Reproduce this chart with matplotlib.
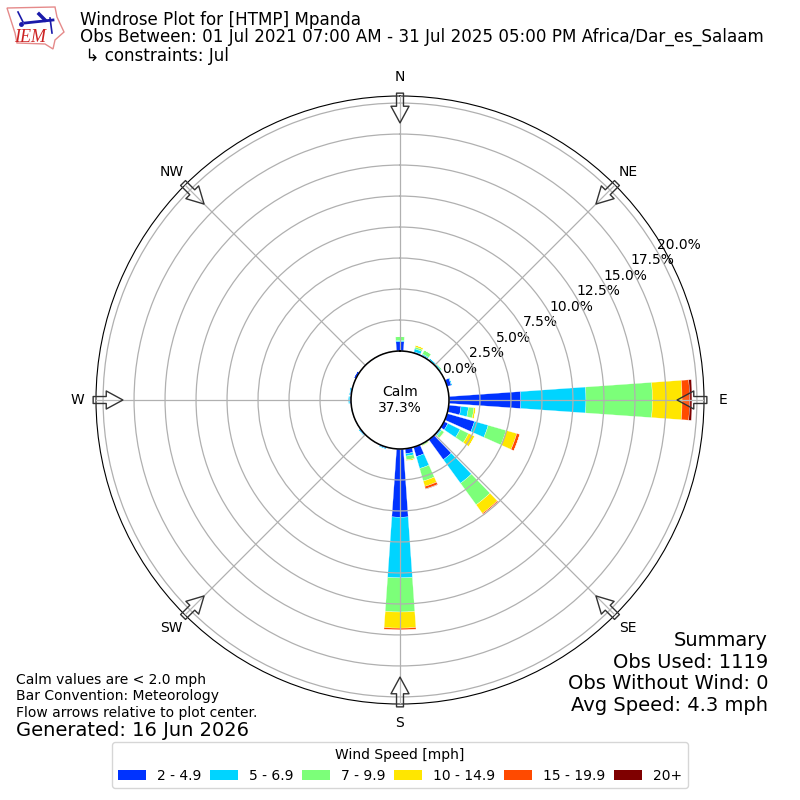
import numpy as np
import matplotlib
matplotlib.use('Agg')
import matplotlib.pyplot as plt
from matplotlib.patches import Polygon, Patch

# direction (deg) -> percent of obs in each speed bin
speed_labels = ['2 - 4.9', '5 - 6.9', '7 - 9.9', '10 - 14.9', '15 - 19.9', '20+']
speed_colors = ['#0033ff', '#00d4ff', '#7cff79', '#ffe600', '#ff4a00', '#7f0000']
directions = [10, 20, 30, 40, 50, 60, 70, 80, 90, 100, 110, 120,
              130, 140, 150, 160, 170, 180, 190, 200, 210, 220, 230, 240,
              250, 260, 270, 280, 290, 300, 310, 320, 330, 340, 350, 360]
bin_2_5 = [0.03, 0.10, 0.08, 0.05, 0.05, 0.03, 0.35, 0.03, 5.8, 1.0, 2.3, 0.35,
           0.10, 2.0, 0.02, 0.8, 0.4, 5.5, 0.03, 0.10, 0.03, 0.05, 0.10, 0.08,
           0.03, 0.05, 0.10, 0.10, 0.03, 0.20, 0.03, 0.05, 0.03, 0.03, 0.05, 0.75]
bin_5_7 = [0.01, 0.25, 0.10, 0.15, 0.10, 0.00, 0.10, 0.00, 5.25, 0.6, 1.15, 1.1,
           0.10, 2.35, 0.03, 1.0, 0.2, 4.9, 0.00, 0.10, 0.00, 0.00, 0.10, 0.00,
           0.00, 0.05, 0.15, 0.10, 0.00, 0.00, 0.00, 0.00, 0.00, 0.00, 0.00, 0.10]
bin_7_10 = [0.00, 0.15, 0.35, 0.00, 0.10, 0.00, 0.00, 0.00, 5.35, 0.45, 1.5, 0.75,
            0.25, 2.15, 0.10, 1.05, 0.3, 2.75, 0.00, 0.00, 0.00, 0.00, 0.00, 0.00,
            0.00, 0.00, 0.00, 0.00, 0.00, 0.00, 0.00, 0.00, 0.00, 0.00, 0.00, 0.30]
bin_10_15 = [0.01, 0.15, 0.00, 0.00, 0.00, 0.00, 0.00, 0.00, 2.4, 0.15, 0.9, 0.55,
             0.05, 0.85, 0.05, 0.45, 0.1, 1.3, 0.00, 0.00, 0.00, 0.00, 0.00, 0.00,
             0.00, 0.00, 0.00, 0.00, 0.00, 0.00, 0.00, 0.00, 0.00, 0.00, 0.00, 0.00]
bin_15_20 = [0.00, 0.00, 0.00, 0.00, 0.00, 0.00, 0.00, 0.00, 0.6, 0.00, 0.25, 0.00,
             0.00, 0.10, 0.00, 0.2, 0.00, 0.15, 0.00, 0.00, 0.00, 0.00, 0.00, 0.00,
             0.00, 0.00, 0.00, 0.00, 0.00, 0.00, 0.00, 0.00, 0.00, 0.00, 0.00, 0.00]
bin_20 = [0.00, 0.00, 0.00, 0.00, 0.00, 0.00, 0.00, 0.00, 0.2, 0.00, 0.00, 0.00,
          0.00, 0.00, 0.00, 0.03, 0.00, 0.00, 0.00, 0.00, 0.00, 0.00, 0.00, 0.00,
          0.00, 0.00, 0.00, 0.00, 0.00, 0.00, 0.00, 0.00, 0.00, 0.00, 0.00, 0.00]
speed_bins = [bin_2_5, bin_5_7, bin_7_10, bin_10_15, bin_15_20, bin_20]

compass = ['N', 'NE', 'E', 'SE', 'S', 'SW', 'W', 'NW']
compass_deg = [0, 45, 90, 135, 180, 225, 270, 315]
ring_values = [0, 2.5, 5, 7.5, 10, 12.5, 15, 17.5, 20]

title_lines = ['Windrose Plot for [HTMP] Mpanda',
               'Obs Between: 01 Jul 2021 07:00 AM - 31 Jul 2025 05:00 PM Africa/Dar_es_Salaam',
               ' \u21b3 constraints: Jul']
summary_lines = ['Summary', 'Obs Used: 1119', 'Obs Without Wind: 0', 'Avg Speed: 4.3 mph']
note_lines = ['Calm values are < 2.0 mph', 'Bar Convention: Meteorology',
              'Flow arrows relative to plot center.']

fig = plt.figure(figsize=(8, 8), dpi=100)
ax = fig.add_axes([0.12, 0.12, 0.76, 0.76], projection='polar')
ax.set_theta_zero_location('N')
ax.set_theta_direction(-1)
ax.set_axisbelow(False)

theta = np.radians(directions)
bottom = np.zeros(len(directions))
for values, color in zip(speed_bins, speed_colors):
    ax.bar(theta, values, width=np.radians(8), bottom=bottom, color=color,
           edgecolor='white', linewidth=0.2, zorder=1)
    bottom += np.array(values)

ax.set_rorigin(-3.95)
ax.set_rlim(0, 20.57)
ax.set_rticks(ring_values)
ax.set_yticklabels(['%.1f%%' % v for v in ring_values])
ax.set_rlabel_position(60)
ax.set_xticks(np.radians(compass_deg))
ax.set_xticklabels(compass)
ax.tick_params(axis='x', pad=3)
ax.grid(True, linewidth=0.9)
ax.spines['inner'].set_linewidth(1.1)
ax.spines['inner'].set_edgecolor('black')
ax.spines['inner'].set_zorder(5)

# flow arrows
for deg in compass_deg:
    ax.annotate('', xy=(np.radians(deg), 18.4), xytext=(np.radians(deg), 20.8),
                annotation_clip=False, zorder=4,
                arrowprops=dict(facecolor=(1, 1, 1, 0.1), edgecolor='#333333', width=5,
                                headwidth=13, headlength=12, linewidth=1, shrink=0))

fig.text(0.5, 0.5, 'Calm\n37.3%', ha='center', va='center', fontsize=10)

fig.text(0.1, 0.9755, title_lines[0], fontsize=12.03, ha='left', va='center')
fig.text(0.1, 0.954, title_lines[1], fontsize=12.03, ha='left', va='center')
fig.text(0.1, 0.930, title_lines[2], fontsize=12.03, ha='left', va='center')

for line, y in zip(summary_lines, [646, 668, 689, 711]):
    fig.text(0.96, 1 - y / 800, line, fontsize=14, ha='right', va='baseline')
for line, y in zip(note_lines, [684, 700, 717]):
    fig.text(0.02, 1 - y / 800, line, fontsize=10, ha='left', va='baseline')
fig.text(0.02, 1 - 736 / 800, 'Generated: 16 Jun 2026', fontsize=14, ha='left', va='baseline')

handles = [Patch(facecolor=c, label=l) for c, l in zip(speed_colors, speed_labels)]
fig.legend(handles=handles, title='Wind Speed [mph]', ncol=6, loc='lower center',
           bbox_to_anchor=(0.5, 0.00625), fontsize=10, title_fontsize=10, columnspacing=0.63)

# rough IEM logo, in pixel coordinates
logo = fig.add_axes([0, 0.93, 0.09, 0.07])
logo.set_xlim(0, 72)
logo.set_ylim(56, 0)
logo.axis('off')
iowa_x = [7, 55, 57, 64, 55, 53, 45, 17, 15, 7]
iowa_y = [8, 7, 17, 32, 40, 49, 44, 43, 33, 8]
logo.add_patch(Polygon(np.column_stack([iowa_x, iowa_y]), closed=True, facecolor='white',
                       edgecolor='#e58a8a', linewidth=1))
logo.plot([18, 23], [12, 22], color='#1a1aaa', linewidth=1.2)
logo.plot([25, 53], [23, 20], color='#1a1aaa', linewidth=2)
logo.plot([39, 45], [14, 20], color='#1a1aaa', linewidth=2.5)
logo.plot([50, 52], [18, 33], color='#1a1aaa', linewidth=1.2)
logo.plot([21], [24], 'o', color='#1a1aaa', markersize=2.5)
logo.text(30, 38, 'IEM', color='#cc2222', fontsize=13, family='Liberation Serif',
          style='italic', ha='center', va='center')

fig.savefig('out.png', dpi=100)
